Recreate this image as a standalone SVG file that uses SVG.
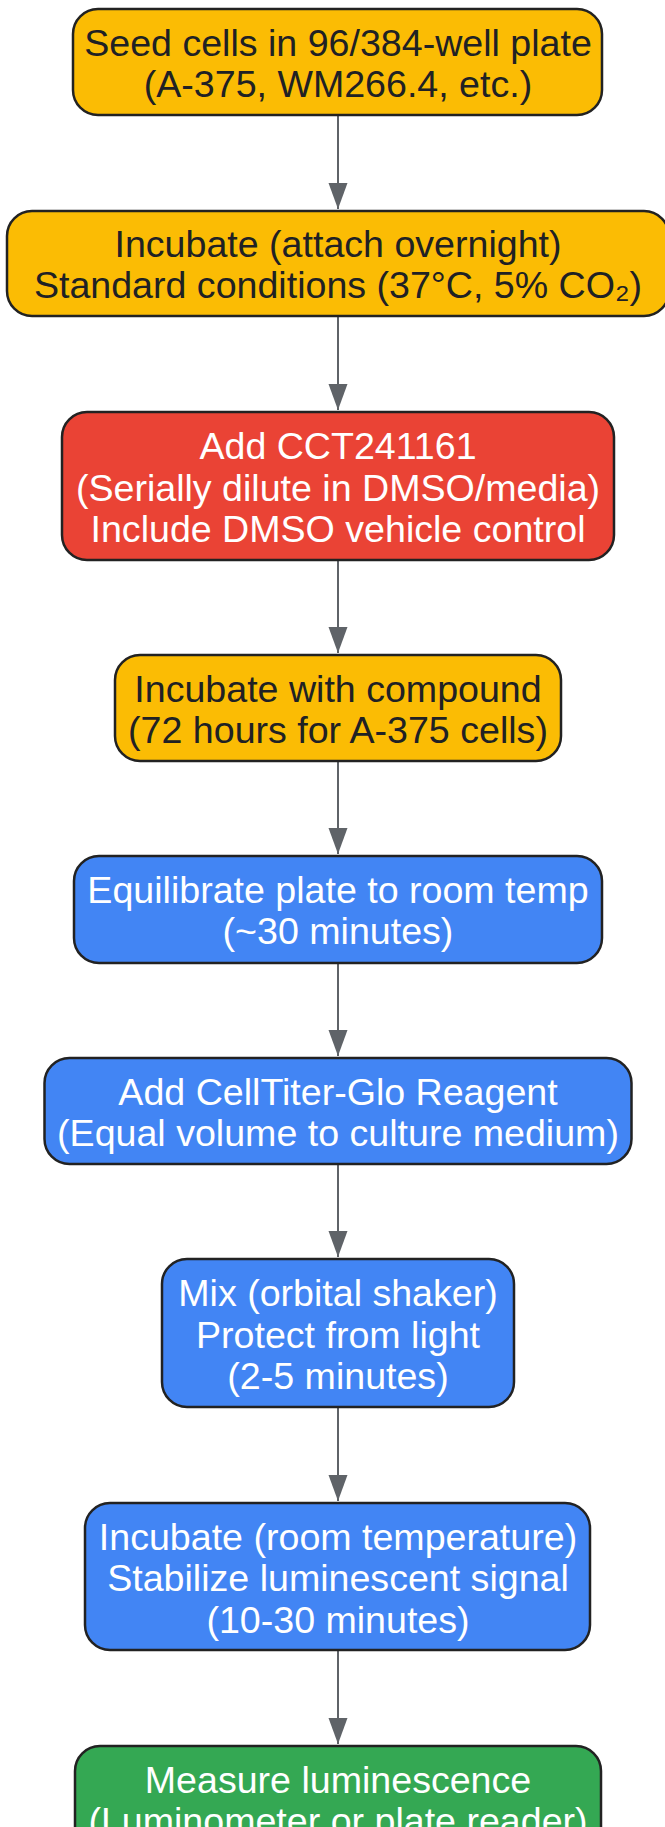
<svg xmlns="http://www.w3.org/2000/svg" width="665" height="1827" viewBox="0 0 665 1827">
<defs>
<style>
.n{stroke:#222222;stroke-width:2.5}
.y{fill:#FBBC04}
.r{fill:#EA4335}
.b{fill:#4285F4}
.g{fill:#34A853}
text{font-family:"Liberation Sans",Arial,sans-serif;font-size:37.6px;text-anchor:middle}
.dk{fill:#202124}
.wt{fill:#FFFFFF}
.e{stroke:#5F6368;stroke-width:2;fill:none;marker-end:url(#ah)}
</style>
<marker id="ah" markerUnits="userSpaceOnUse" markerWidth="26" markerHeight="20" refX="26" refY="9.5" orient="auto">
<path d="M0,0 L26,9.5 L0,19 z" fill="#5F6368"/>
</marker>
</defs>
<rect width="665" height="1827" fill="#FFFFFF"/>
<g id="edges">
<line class="e" x1="338" y1="115" x2="338" y2="209"/>
<line class="e" x1="338" y1="316" x2="338" y2="410"/>
<line class="e" x1="338" y1="560" x2="338" y2="653"/>
<line class="e" x1="338" y1="761" x2="338" y2="854"/>
<line class="e" x1="338" y1="963" x2="338" y2="1056"/>
<line class="e" x1="338" y1="1164" x2="338" y2="1257"/>
<line class="e" x1="338" y1="1407" x2="338" y2="1501"/>
<line class="e" x1="338" y1="1650" x2="338" y2="1744"/>
</g>
<g id="n1">
<rect class="n y" x="73" y="9" width="529" height="106" rx="25"/>
<text class="dk" x="338" y="55.5">Seed cells in 96/384-well plate</text>
<text class="dk" x="338" y="96.7">(A-375, WM266.4, etc.)</text>
</g>
<g id="n2">
<rect class="n y" x="7" y="211" width="662" height="105" rx="25"/>
<text class="dk" x="338" y="257">Incubate (attach overnight)</text>
<text class="dk" x="338" y="298.2">Standard conditions (37°C, 5% CO₂)</text>
</g>
<g id="n3">
<rect class="n r" x="62" y="412" width="552" height="148" rx="25"/>
<text class="wt" x="338" y="459">Add CCT241161</text>
<text class="wt" x="338" y="500.5">(Serially dilute in DMSO/media)</text>
<text class="wt" x="338" y="542">Include DMSO vehicle control</text>
</g>
<g id="n4">
<rect class="n y" x="115" y="655" width="446" height="106" rx="25"/>
<text class="dk" x="338" y="701.5">Incubate with compound</text>
<text class="dk" x="338" y="742.7">(72 hours for A-375 cells)</text>
</g>
<g id="n5">
<rect class="n b" x="74" y="856" width="528" height="107" rx="25"/>
<text class="wt" x="338" y="903">Equilibrate plate to room temp</text>
<text class="wt" x="338" y="944.2">(~30 minutes)</text>
</g>
<g id="n6">
<rect class="n b" x="44.5" y="1058" width="587" height="106" rx="25"/>
<text class="wt" x="338" y="1104.5">Add CellTiter-Glo Reagent</text>
<text class="wt" x="338" y="1145.7">(Equal volume to culture medium)</text>
</g>
<g id="n7">
<rect class="n b" x="162" y="1259" width="352" height="148" rx="25"/>
<text class="wt" x="338" y="1306">Mix (orbital shaker)</text>
<text class="wt" x="338" y="1347.5">Protect from light</text>
<text class="wt" x="338" y="1389">(2-5 minutes)</text>
</g>
<g id="n8">
<rect class="n b" x="85" y="1503" width="505" height="147" rx="25"/>
<text class="wt" x="338" y="1549.5">Incubate (room temperature)</text>
<text class="wt" x="338" y="1591">Stabilize luminescent signal</text>
<text class="wt" x="338" y="1632.5">(10-30 minutes)</text>
</g>
<g id="n9">
<rect class="n g" x="75" y="1746" width="526" height="106" rx="25"/>
<text class="wt" x="338" y="1792.5">Measure luminescence</text>
<text class="wt" x="338" y="1833.7">(Luminometer or plate reader)</text>
</g>
</svg>
